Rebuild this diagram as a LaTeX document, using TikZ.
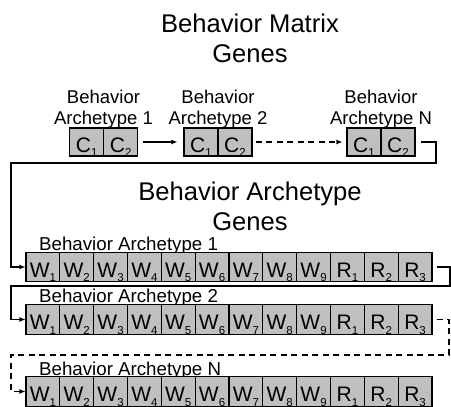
\documentclass[tikz,border=0pt]{standalone}
\usepackage{fontspec}
\setmainfont{Liberation Sans}
\usetikzlibrary{arrows.meta}
\newcommand\subn[1]{\raisebox{-4.5pt}{\fontsize{11.5}{11.5}\selectfont #1}}
\begin{document}
\begin{tikzpicture}[x=1pt,y=-1pt,
  cell/.style={draw=black, line width=1.1pt, fill=gray!50, minimum width=33.83pt,
    minimum height=29.5pt, inner sep=0pt, text height=20pt, text depth=0pt,
    font=\fontsize{21}{21}\selectfont},
  ccell/.style={cell, minimum width=34pt, minimum height=28pt},
  title/.style={align=center, inner sep=0pt, font=\fontsize{25.6}{30}\selectfont},
  toplabel/.style={align=center, inner sep=0pt, font=\fontsize{18.5}{21.5}\selectfont},
  rowlabel/.style={inner sep=0pt, font=\fontsize{18.7}{21}\selectfont},
  conn/.style={line width=1.1pt, draw=black},
  arr/.style={-{Latex[length=6pt,width=5pt]}},
  dsh/.style={dash pattern=on 6pt off 4.5pt}
]
\useasboundingbox (0,0) rectangle (451,407);

% titles (base anchor = baseline of last line)
\node[title, anchor=base] (t1) at (250,62) {Behavior Matrix\\Genes};
\node[title, anchor=base] (t2) at (250,230) {Behavior Archetype\\Genes};

% top labels
\node[toplabel, anchor=base] (la) at (103.5,124.5) {Behavior\\Archetype 1};
\node[toplabel, anchor=base] (lb) at (218,124.5) {Behavior\\Archetype 2};
\node[toplabel, anchor=base] (ln) at (381,124.5) {Behavior\\Archetype N};

% top C cells
\node[ccell] (a1) at (86.75,142) {C\subn{1}};
\node[ccell] (a2) at (120.75,142) {C\subn{2}};
\node[ccell] (b1) at (201,142) {C\subn{1}};
\node[ccell] (b2) at (235,142) {C\subn{2}};
\node[ccell] (n1) at (364,142) {C\subn{1}};
\node[ccell] (n2) at (398,142) {C\subn{2}};

% row labels
\node[rowlabel, anchor=base west] (r1l) at (39,250) {Behavior Archetype 1};
\node[rowlabel, anchor=base west] (r2l) at (39,302) {Behavior Archetype 2};
\node[rowlabel, anchor=base west] (rNl) at (39,375) {Behavior Archetype N};

% rows of W / R cells
\foreach \r/\y in {1/267, 2/319.5, N/391.5} {
  \foreach \i in {1,...,9}
    \node[cell] (r\r w\i) at ({26+33.83*(\i-0.5)}, \y) {W\subn{\i}};
  \foreach \j [count=\k from 10] in {1,2,3}
    \node[cell] (r\r w\k) at ({26+33.83*(\k-0.5)}, \y) {R\subn{\j}};
}

% connectors
\draw[conn, arr, shorten <=5pt, shorten >=6pt] (a2) -- (b1);
\draw[conn, arr, dsh, shorten <=3pt, shorten >=4pt] (b2) -- (n1);

\coordinate (k1) at (436,163);
\coordinate (k2) at (11,163);
\draw[conn, arr] ([xshift=5pt]n2.east) -| (k1) -- (k2) |- (r1w1.west);

\coordinate (k3) at (450,286);
\coordinate (k4) at (11,286);
\draw[conn, arr] ([xshift=4pt]r1w12.east) -| (k3) -- (k4) |- (r2w1.west);

\coordinate (k5) at (449,355);
\coordinate (k6) at (11,355);
\draw[conn, arr, dsh] ([xshift=4pt]r2w12.east) -| (k5) -- (k6) |- (rNw1.west);
\end{tikzpicture}
\end{document}
